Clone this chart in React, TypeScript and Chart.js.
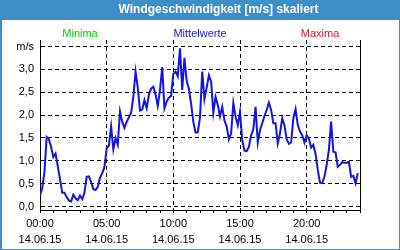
import { useEffect, useRef } from 'react';
import { Chart, registerables } from 'chart.js';

Chart.register(...registerables);

const chartTitle = 'Windgeschwindigkeit [m/s] skaliert';
const seriesNames = ['Minima', 'Mittelwerte', 'Maxima'];
const seriesColors = ['#00d000', '#1414e0', '#dc143c'];
const dateLabel = '14.06.15';
const stepMinutes = 10;

// 10-minute mean wind speed (m/s), 00:00 .. 23:50
const meanValues = [
  0.25, 0.4, 0.75, 1.52, 1.47, 1.3, 1.08, 1.16, 0.88, 0.6,
  0.3, 0.3, 0.21, 0.13, 0.11, 0.26, 0.18, 0.14, 0.24, 0.16,
  0.3, 0.65, 0.66, 0.54, 0.38, 0.36, 0.43, 0.63, 0.73, 0.86,
  1.27, 1.33, 1.75, 1.25, 1.5, 1.35, 2.08, 1.85, 1.72, 1.85,
  1.95, 2.05, 2.4, 2.95, 2.6, 2.1, 2.12, 2.33, 2.15, 2.45,
  2.58, 2.62, 2.45, 2.2, 2.55, 3.05, 2.15, 2.3, 2.38, 2.42,
  2.9, 2.95, 2.85, 3.46, 2.55, 3.25, 2.75, 2.57, 2.25, 1.85,
  1.62, 1.62, 1.95, 2.95, 2.35, 2.6, 2.87, 2.73, 2.05, 2.4,
  2.22, 1.97, 2.18, 1.88, 1.75, 1.47, 1.6, 2.26, 1.97, 1.78,
  2.07, 1.45, 1.22, 1.21, 1.31, 1.56, 1.69, 2.18, 1.4, 1.67,
  1.82, 1.98, 2.11, 2.27, 2.11, 1.82, 1.82, 1.38, 1.6, 1.93,
  1.78, 1.47, 1.37, 1.4, 1.93, 2.13, 1.78, 1.64, 1.56, 1.4,
  1.56, 1.48, 1.29, 1.35, 1.15, 0.8, 0.52, 0.51, 0.65, 0.91,
  1.24, 1.86, 1.2, 1.18, 0.87, 0.91, 0.97, 0.96, 0.96, 0.98,
  0.65, 0.67, 0.51, 0.73,
];
const minValues: number[] = [];
const maxValues: number[] = [];

const xTickMinutes = [
  0, 60, 120, 180, 240, 300, 360, 420, 480, 540, 600, 660, 720,
  780, 840, 900, 960, 1020, 1080, 1140, 1200, 1260, 1320, 1380, 1440,
];
const xLabelEvery = 300;
const yTickValues = [0, 0.5, 1, 1.5, 2, 2.5, 3, 3.5];
const yUnitLabel = 'm/s';

const sampleMinutes = meanValues.map((_, i) => i * stepMinutes);

const BAR = '#3d8fc9';
const FONT = 'Liberation Sans';

function fmtTime(m: number) {
  const h = Math.floor(m / 60);
  return String(h).padStart(2, '0') + ':00';
}

export default function App() {
  const ref = useRef<HTMLCanvasElement | null>(null);

  useEffect(() => {
    document.body.style.margin = '0';
    const canvas = ref.current;
    if (!canvas) return;

    const framePlugin = {
      id: 'frame',
      afterLayout(chart: any) {
        const tb = chart.titleBlock;
        if (tb) {
          tb.left = 37;
          tb.width = tb.right - tb.left;
        }
      },
      beforeDraw(chart: any) {
        const { ctx, width, height } = chart;
        ctx.save();
        ctx.fillStyle = '#ffffff';
        ctx.fillRect(0, 0, width, height);
        ctx.fillStyle = BAR;
        ctx.fillRect(0, 0, width, 20);
        ctx.fillRect(0, 0, 2, height);
        ctx.fillRect(width - 1, 0, 1, height);
        ctx.fillRect(0, height - 1, width, 1);
        ctx.restore();
      },
    };

    const legendTextPlugin = {
      id: 'legendText',
      afterDraw(chart: any) {
        const { ctx, width } = chart;
        ctx.save();
        ctx.font = `11px "${FONT}"`;
        ctx.textAlign = 'center';
        ctx.textBaseline = 'alphabetic';
        chart.data.datasets.forEach((ds: any, i: number) => {
          ctx.fillStyle = ds.borderColor;
          ctx.fillText(ds.label, width * (0.2 + 0.3 * i), 36.5);
        });
        ctx.restore();
      },
    };

    const chart = new Chart(canvas, {
      type: 'line',
      data: {
        datasets: [
          { label: seriesNames[0], data: minValues.map((v, i) => ({ x: sampleMinutes[i], y: v })), borderColor: seriesColors[0], borderWidth: 2, pointRadius: 0 },
          { label: seriesNames[1], data: meanValues.map((v, i) => ({ x: sampleMinutes[i], y: v })), borderColor: seriesColors[1], borderWidth: 2, pointRadius: 0, tension: 0, fill: false },
          { label: seriesNames[2], data: maxValues.map((v, i) => ({ x: sampleMinutes[i], y: v })), borderColor: seriesColors[2], borderWidth: 2, pointRadius: 0 },
        ],
      },
      options: {
        animation: false,
        responsive: false,
        devicePixelRatio: 1,
        layout: { padding: 0 },
        plugins: {
          legend: { display: false },
          tooltip: { enabled: false },
          title: {
            display: true,
            text: chartTitle,
            color: '#ffffff',
            font: { family: FONT, size: 12, weight: 'bold' },
            padding: { top: 2, bottom: 23.6 },
          },
        },
        scales: {
          x: {
            type: 'linear', min: 0, max: 1440,
            afterBuildTicks: (axis: any) => { axis.ticks = xTickMinutes.map((v) => ({ value: v })); },
            afterFit: (s: any) => { s.height = 40; },
            ticks: {
              autoSkip: false, maxRotation: 0, minRotation: 0, padding: 3, color: '#000',
              font: { family: FONT, size: 11, lineHeight: 1.4545 },
              callback: (value: any) => {
                const v = Number(value);
                return v % xLabelEvery === 0 && v < 1440 ? [fmtTime(v), dateLabel] : '';
              },
            },
            grid: {
              color: (ctx: any) => ctx.tick && ctx.tick.value % xLabelEvery === 0 ? '#000' : 'rgba(0,0,0,0)',
              lineWidth: 1, drawTicks: true, tickLength: 3, tickColor: '#000',
            },
            border: { display: true, color: '#000', width: 1, dash: [4, 3] },
          },
          y: {
            type: 'linear', position: 'left', min: -0.076, max: 3.642,
            afterBuildTicks: (axis: any) => { axis.ticks = yTickValues.map((v) => ({ value: v })); },
            afterFit: (s: any) => { s.width = 40; },
            ticks: {
              padding: 6, color: '#000', font: { family: FONT, size: 11 },
              callback: (value: any) => {
                const v = Number(value);
                return v === 3.5 ? yUnitLabel : v.toFixed(1).replace('.', ',');
              },
            },
            grid: { color: '#000', lineWidth: 1, drawTicks: false },
            border: { display: true, color: '#000', width: 1, dash: [4, 3] },
          },
          y2: {
            type: 'linear', position: 'right',
            afterFit: (s: any) => { s.width = 40; },
            ticks: { display: false },
            grid: { drawOnChartArea: false, drawTicks: false },
            border: { display: true, color: '#000', width: 1 },
          },
        },
      },
      plugins: [framePlugin, legendTextPlugin],
    } as any);

    return () => chart.destroy();
  }, []);

  return (
    <div style={{ position: 'fixed', left: 0, top: 0, width: 400, height: 250 }}>
      <canvas ref={ref} width={400} height={250} style={{ display: 'block', width: 400, height: 250 }} />
    </div>
  );
}
